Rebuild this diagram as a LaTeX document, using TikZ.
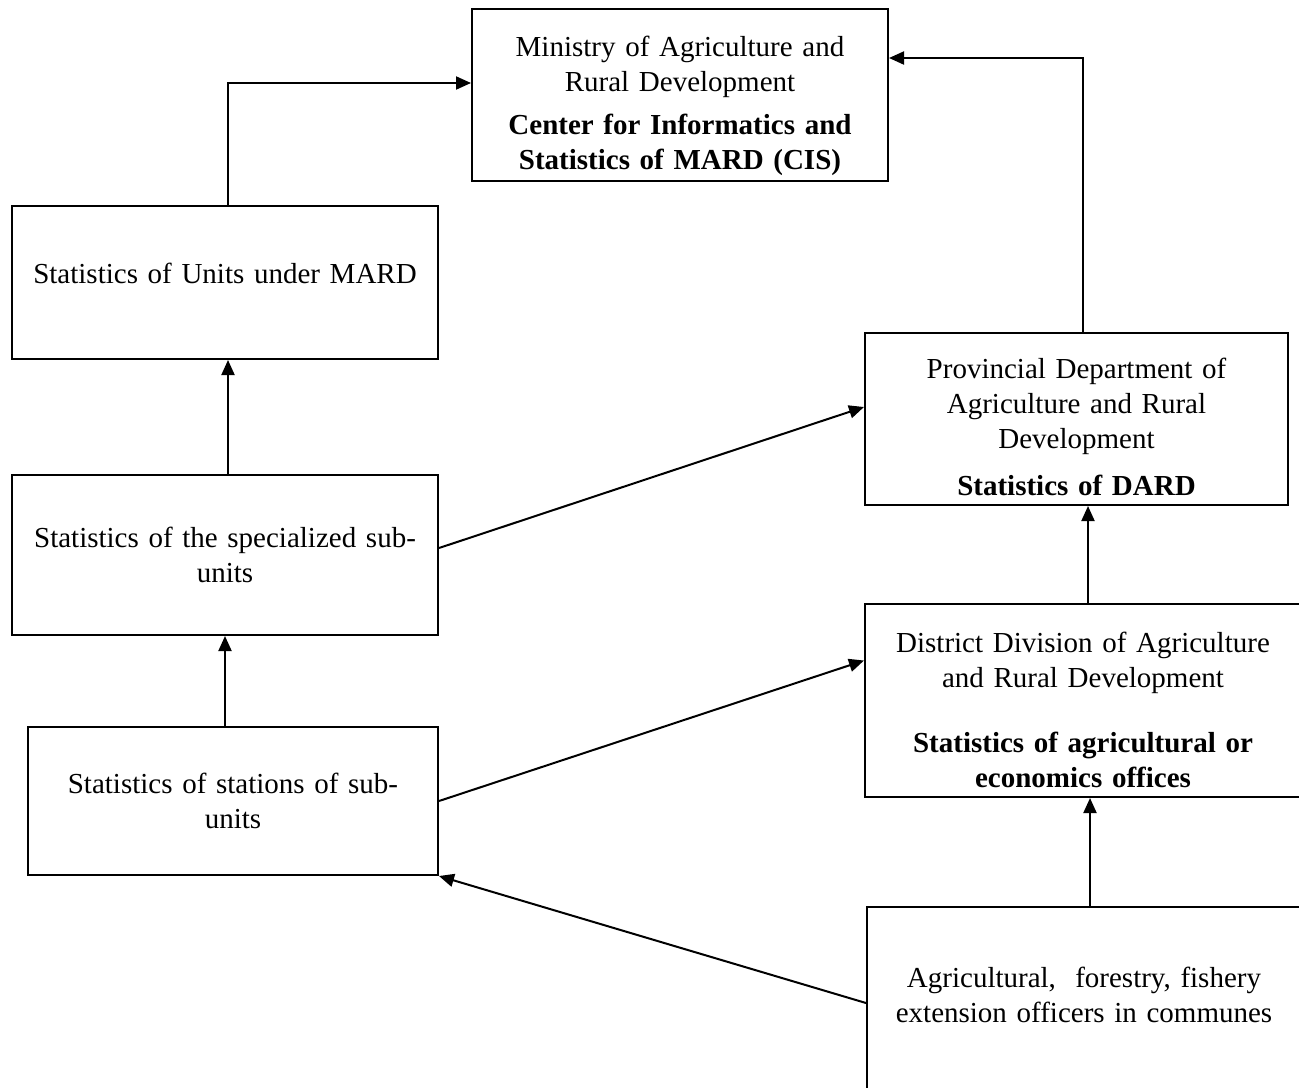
\documentclass[tikz,border=0pt]{standalone}
\usepackage{fontspec}
\setmainfont{Liberation Serif}
\usepackage{tikz}
\usetikzlibrary{calc}
\usetikzlibrary{arrows.meta}
\usetikzlibrary{positioning}

\begin{document}
\begin{tikzpicture}[x=0.5pt,y=-0.5pt,line width=1pt,
		>={Triangle[length=7.5pt,width=6.5pt]},
		box/.style={draw,rectangle,align=center,inner sep=0pt,font=\fontsize{14.5}{17.5}\selectfont}]
		\useasboundingbox (0,0) rectangle (1299,1087);
		\clip (0,0) rectangle (1299,1087);

		\node [box,minimum width=208pt,minimum height=86pt,text width=200pt] (mard) at (680,95)
			{\rule{0pt}{21pt}Ministry of Agriculture and\\Rural Development\\[4pt]
			\textbf{Center for Informatics and}\\\textbf{Statistics of MARD (CIS)}};
		\node [box,minimum width=213pt,minimum height=76.5pt,text width=205pt] (units) at (225,282.5)
			{Statistics of Units under MARD\rule[-9pt]{0pt}{9pt}};
		\node [box,minimum width=211.5pt,minimum height=86pt,text width=205pt] (dard) at (1076.5,419)
			{\rule{0pt}{18pt}Provincial Department of\\Agriculture and Rural\\Development\\[6pt]
			\textbf{Statistics of DARD}};
		\node [box,minimum width=213pt,minimum height=80pt,text width=205pt] (special) at (225,555)
			{Statistics of the specialized sub-\\units};
		\node [box,minimum width=218pt,minimum height=96.5pt,text width=210pt] (district) at (1083,700.5)
			{\rule{0pt}{20pt}District Division of Agriculture\\and Rural Development\\[15pt]
			\textbf{Statistics of agricultural or}\\\textbf{economics offices}};
		\node [box,minimum width=205pt,minimum height=74pt,text width=198pt] (stations) at (233,801)
			{Statistics of stations of sub-\\units};
		\node [box,minimum width=217pt,minimum height=100pt,text width=210pt] (commune) at (1084,1007)
			{Agricultural,~ forestry, fishery\\extension officers in communes\rule[-12pt]{0pt}{12pt}};

		\draw [->] ([xshift=1.5pt]units.north) |- ([yshift=6pt]mard.west);
		\draw [->] ([xshift=3pt]dard.north) |- ([yshift=18.5pt]mard.east);
		\draw [->] ([xshift=1.5pt]special.north) -- ([xshift=1.5pt]units.south);
		\draw [->] ([yshift=3.5pt]special.east) -- ([yshift=6pt]dard.west);
		\draw [->] (special.south |- stations.north) -- (special.south);
		\draw [->] (stations.east) -- ([yshift=20pt]district.west);
		\draw [->] ([xshift=2.5pt]district.north) -- ([xshift=2.5pt]district.north |- dard.south);
		\draw [->] ([xshift=3pt]commune.north) -- ([xshift=3pt]commune.north |- district.south);
		\draw [->] ([yshift=2pt]commune.west) -- (stations.south east);
	\end{tikzpicture}
\end{document}
